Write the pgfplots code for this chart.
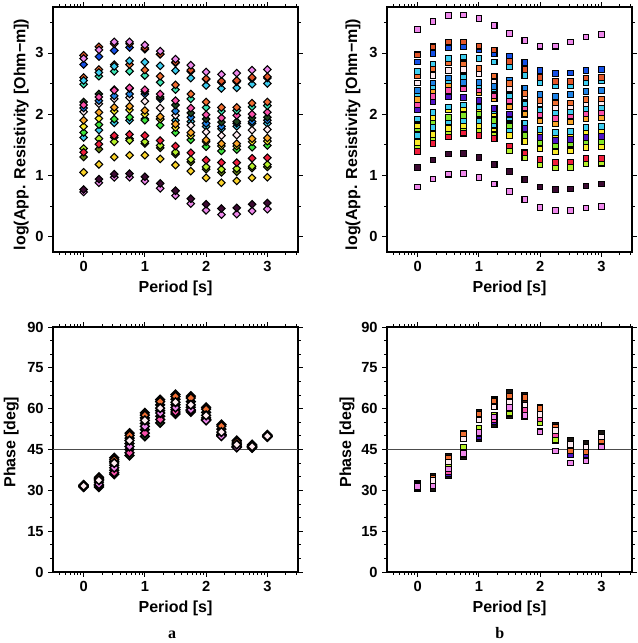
\documentclass[border=0pt]{standalone}
\usepackage{fontspec}
\setmainfont{Liberation Sans}
\newfontfamily\serifb{Liberation Serif}
\usepackage{pgfplots}
\usepackage{pgfplotstable}
\pgfplotsset{compat=1.18}

\definecolor{cViolet}{RGB}{238,135,235}
\definecolor{cTomato}{RGB}{225,85,40}
\definecolor{cBlue}{RGB}{20,80,230}
\definecolor{cCyan}{RGB}{60,205,240}
\definecolor{cOrange}{RGB}{240,110,50}
\definecolor{cAqua}{RGB}{60,230,180}
\definecolor{cDkGreen}{RGB}{30,70,30}
\definecolor{cHotPink}{RGB}{250,80,170}
\definecolor{cSteel}{RGB}{30,130,230}
\definecolor{cWhite}{RGB}{255,235,240}
\definecolor{cLtOrange}{RGB}{250,165,40}
\definecolor{cYellow}{RGB}{250,235,40}
\definecolor{cGreen}{RGB}{60,230,60}
\definecolor{cYG}{RGB}{180,240,40}
\definecolor{cRed}{RGB}{240,30,60}
\definecolor{cOlive}{RGB}{100,130,20}
\definecolor{cGold}{RGB}{250,210,40}
\definecolor{cDkPurple}{RGB}{60,10,50}
\definecolor{cIndigo}{RGB}{80,20,200}
\definecolor{cLime}{RGB}{130,230,40}
\definecolor{cDark}{RGB}{25,20,15}
\definecolor{cDkBrown}{RGB}{70,30,15}

% top-left: log apparent resistivity (diamonds)
\pgfplotstableread{
x    s1   s2   s3   s4   s5   s6   s7   s8   s9   s10  s11  s12  s13  s14  s15  s16  s17  s18  s19  s20
0    2.91 2.96 2.81 2.55 2.60 2.49 2.20 2.15 2.10 2.04 1.90 1.80 1.70 1.62 1.44 1.38 1.30 1.05 0.77 0.73
0.25 3.05 3.10 2.94 2.68 2.73 2.62 2.33 2.28 2.22 2.17 2.03 1.93 1.83 1.74 1.60 1.51 1.43 1.18 0.94 0.88
0.5  3.18 3.15 3.04 2.78 2.81 2.70 2.40 2.39 2.30 2.25 2.11 2.05 1.92 1.86 1.55 1.65 1.62 1.30 1.02 0.97
0.75 3.18 3.15 3.09 2.87 2.81 2.70 2.42 2.43 2.33 2.27 2.13 2.07 1.95 1.90 1.57 1.67 1.60 1.33 1.03 0.97
1.0  3.13 3.08 3.06 2.85 2.72 2.63 2.37 2.40 2.33 2.21 2.06 2.00 1.90 1.92 1.55 1.65 1.52 1.33 0.98 0.91
1.25 3.03 2.98 2.98 2.79 2.62 2.52 2.28 2.33 2.25 2.10 1.96 1.92 1.82 1.92 1.49 1.57 1.45 1.27 0.87 0.79
1.5  2.90 2.85 2.84 2.71 2.48 2.40 2.15 2.22 2.05 1.98 1.84 1.78 1.70 1.90 1.38 1.48 1.35 1.17 0.75 0.67
1.75 2.80 2.72 2.70 2.59 2.33 2.25 2.02 2.10 1.95 1.82 1.70 1.65 1.58 1.88 1.26 1.37 1.22 1.07 0.62 0.54
2.0  2.69 2.58 2.57 2.47 2.20 2.11 1.92 1.99 1.85 1.71 1.58 1.55 1.47 1.80 1.14 1.25 1.10 0.96 0.53 0.43
2.25 2.65 2.54 2.52 2.42 2.11 2.05 1.87 1.94 1.80 1.65 1.52 1.48 1.40 1.76 1.10 1.21 1.05 0.88 0.46 0.36
2.5  2.67 2.55 2.53 2.43 2.11 2.06 1.88 1.98 1.85 1.66 1.52 1.48 1.42 1.80 1.11 1.21 1.06 0.91 0.47 0.37
2.75 2.72 2.60 2.58 2.49 2.18 2.12 1.94 2.00 1.88 1.74 1.60 1.55 1.46 1.85 1.15 1.28 1.12 0.96 0.53 0.42
3.0  2.73 2.61 2.59 2.50 2.20 2.14 1.95 2.03 1.90 1.75 1.61 1.56 1.49 1.85 1.18 1.29 1.14 0.97 0.55 0.45
}\tl

% top-right: log apparent resistivity (squares)
\pgfplotstableread{
x    t1   t2   t3   t4   t5   t6   t7   t8   t9   t10  t11  t12  t13  t14  t15  t16  t17  t18  t19  t20
0    3.38 2.97 2.85 2.70 2.63 2.51 2.39 2.33 2.24 2.15 2.07 1.65 1.81 1.76 1.92 1.54 1.46 1.39 1.13 0.81
0.25 3.51 3.10 2.99 2.82 2.75 2.63 2.51 2.45 2.38 2.29 2.21 1.78 1.95 1.87 2.03 1.67 1.59 1.52 1.25 0.94
0.5  3.61 3.18 3.08 2.91 2.84 2.71 2.59 2.55 2.47 2.39 2.28 1.87 2.07 1.95 2.12 1.77 1.69 1.63 1.35 1.02
0.75 3.62 3.18 3.10 2.93 2.82 2.73 2.52 2.61 2.45 2.41 2.27 1.90 2.09 1.98 2.15 1.81 1.74 1.69 1.36 1.03
1.0  3.56 3.11 3.05 2.91 2.75 2.66 2.52 2.47 2.35 2.40 2.22 1.89 2.09 2.00 2.12 1.81 1.72 1.65 1.29 0.97
1.25 3.45 3.05 2.99 2.85 2.62 2.55 2.45 2.41 2.25 2.30 2.09 1.82 2.01 1.90 2.05 1.76 1.65 1.60 1.18 0.86
1.5  3.32 2.86 2.94 2.77 2.50 2.41 2.55 2.30 2.12 2.22 2.00 1.75 1.92 1.81 1.95 1.65 1.41 1.48 1.06 0.74
1.75 3.20 2.73 2.84 2.63 2.34 2.28 2.43 2.17 2.00 2.10 1.77 1.70 1.80 1.65 1.85 1.55 1.29 1.37 0.93 0.61
2.0  3.11 2.60 2.71 2.52 2.22 2.17 2.32 2.07 1.89 1.99 1.62 1.60 1.69 1.54 1.75 1.43 1.17 1.26 0.81 0.48
2.25 3.11 2.53 2.66 2.47 2.18 2.11 2.29 2.03 1.84 1.93 1.57 1.55 1.64 1.48 1.70 1.38 1.12 1.21 0.77 0.43
2.5  3.18 2.53 2.67 2.47 2.18 2.12 2.32 2.04 1.87 1.97 1.59 1.57 1.66 1.51 1.72 1.40 1.13 1.22 0.78 0.43
2.75 3.26 2.59 2.71 2.52 2.24 2.17 2.37 2.09 1.92 2.01 1.62 1.60 1.71 1.55 1.78 1.46 1.19 1.28 0.83 0.47
3.0  3.30 2.60 2.73 2.55 2.25 2.19 2.39 2.10 1.94 2.02 1.64 1.62 1.72 1.55 1.80 1.47 1.20 1.28 0.86 0.49
}\tr

% bottom-left: phase (diamonds)
\pgfplotstableread{
x    pdt  por  pm1  pwh  pm2  pvi  pm3  php  pdb
0    32.0 31.8 31.7 31.6 31.5 31.5 31.4 31.4 31.2
0.25 34.8 34.4 34.0 33.7 33.0 32.2 31.9 31.6 31.2
0.5  42.0 41.2 40.6 40.0 39.2 38.3 37.4 36.5 35.9
0.75 51.0 50.2 49.2 48.3 47.2 46.1 45.0 43.8 42.8
1.0  58.5 57.6 56.6 55.7 54.6 53.5 52.3 51.0 49.8
1.25 63.3 62.6 61.4 60.2 59.3 58.4 57.2 56.0 54.8
1.5  65.2 64.5 63.5 62.4 61.4 60.4 59.6 58.8 58.0
1.75 64.6 63.9 62.6 61.4 60.5 59.6 59.4 59.2 58.8
2.0  60.5 59.8 58.6 57.5 56.6 55.7 55.8 56.0 56.0
2.25 54.2 53.6 52.5 51.4 50.6 49.9 50.1 50.4 50.3
2.5  48.3 47.8 47.3 46.8 46.3 45.8 46.0 46.2 45.8
2.75 46.8 46.5 46.3 46.1 46.0 45.8 45.9 45.9 45.6
3.0  50.4 50.2 50.0 49.9 49.8 49.7 49.7 49.8 49.6
}\bl

% bottom-right: phase (squares)
\pgfplotstableread{
x    qdt  qor  qm1  qwh  qgr  qhp  qvi  qbl  qdb
0    32.7 32.3 32.0 31.8 31.3 31.2 31.5 31.0 30.6
0.25 35.0 34.5 34.1 33.7 32.6 32.2 31.6 31.8 30.7
0.5  42.4 41.6 41.0 40.4 38.7 36.9 37.8 36.2 35.4
0.75 51.0 50.6 49.8 48.9 45.7 44.1 43.6 43.0 42.3
1.0  58.6 58.1 57.0 55.9 52.7 50.9 51.2 49.8 49.0
1.25 63.5 62.9 61.8 60.6 57.6 55.8 57.0 55.2 54.0
1.5  65.9 64.7 63.5 62.4 58.5 60.0 60.5 58.2 57.4
1.75 65.0 64.1 62.8 61.4 58.5 59.5 57.4 57.6 57.0
2.0  60.6 60.1 59.0 57.9 55.0 56.3 51.5 55.2 55.0
2.25 54.0 53.2 52.6 52.0 48.7 50.3 44.5 48.3 48.5
2.5  48.5 44.5 47.6 46.8 44.9 45.5 40.0 43.2 43.6
2.75 47.2 44.2 46.5 45.9 44.6 45.2 40.8 43.1 42.8
3.0  51.0 47.8 50.3 49.6 48.0 48.6 46.0 47.3 46.6
}\br

\pgfplotsset{
  gmt/.style={
    scale only axis, width=183.75pt, height=183.75pt,
    xmin=-0.5, xmax=3.5,
    xtick={0,1,2,3},
    minor xtick={-0.398,-0.301,-0.222,-0.155,-0.097,-0.046,
      0.301,0.477,0.602,0.699,0.778,0.845,0.903,0.954,
      1.301,1.477,1.602,1.699,1.778,1.845,1.903,1.954,
      2.301,2.477,2.602,2.699,2.778,2.845,2.903,2.954,
      3.301,3.477},
    tick align=outside, tick pos=both,
    axis line style={line width=1.6pt},
    major tick length=3.5pt, minor tick length=2pt,
    every tick/.style={black, line width=0.6pt},
    ticklabel style={font=\bfseries\fontsize{11}{13}\selectfont},
    label style={font=\bfseries\fontsize{12}{14}\selectfont},
    /pgf/number format/assume math mode=true,
    xlabel={Period [s]},
    xlabel style={at={(axis description cs:0.5,-0.148)}, anchor=center},
    clip=false,
  },
  res/.style={gmt, ymin=-0.25, ymax=3.75, ytick={0,1,2,3},
    minor ytick={0.5,1.5,2.5,3.5},
    ylabel={log(App. Resistivity [Ohm−m])}},
  pha/.style={gmt, ymin=0, ymax=90, ytick={0,15,30,45,60,75,90},
    minor ytick={5,10,20,25,35,40,50,55,65,70,80,85},
    ylabel={Phase [deg]}},
  dia/.style={only marks, mark=square*, mark size=2.0pt,
    mark options={rotate=45, draw=black, line width=0.8pt, fill=#1}},
  pdia/.style={only marks, mark=square*, mark size=2.3pt,
    mark options={rotate=45, draw=black, line width=1.1pt, fill=#1}},
  sq/.style={only marks, mark=square*, mark size=2.1pt,
    mark options={draw=black, line width=0.8pt, fill=#1}},
}

\begin{document}
\begin{tikzpicture}
\useasboundingbox (0,0) rectangle (478.5pt,482.25pt);

% ---------- top-left ----------
\begin{axis}[res, at={(39.75pt,293.25pt)}, anchor=south west,
  ylabel style={at={(axis description cs:-0.13,0.48)}, anchor=center}]
\addplot[dia=cViolet]   table[x=x,y=s20]{\tl};
\addplot[dia=cDkPurple] table[x=x,y=s19]{\tl};
\addplot[dia=cGold]     table[x=x,y=s18]{\tl};
\addplot[dia=cOlive]    table[x=x,y=s17]{\tl};
\addplot[dia=cYG]       table[x=x,y=s15]{\tl};
\addplot[dia=cRed]      table[x=x,y=s16]{\tl};
\addplot[dia=cCyan]     table[x=x,y=s14]{\tl};
\addplot[dia=cGreen]    table[x=x,y=s13]{\tl};
\addplot[dia=cYellow]   table[x=x,y=s12]{\tl};
\addplot[dia=cLtOrange] table[x=x,y=s11]{\tl};
\addplot[dia=cWhite]    table[x=x,y=s10]{\tl};
\addplot[dia=cSteel]    table[x=x,y=s9]{\tl};
\addplot[dia=cDkGreen]  table[x=x,y=s7]{\tl};
\addplot[dia=cHotPink]  table[x=x,y=s8]{\tl};
\addplot[dia=cAqua]     table[x=x,y=s6]{\tl};
\addplot[dia=cOrange]   table[x=x,y=s5]{\tl};
\addplot[dia=cCyan]     table[x=x,y=s4]{\tl};
\addplot[dia=cBlue]     table[x=x,y=s3]{\tl};
\addplot[dia=cTomato]   table[x=x,y=s2]{\tl};
\addplot[dia=cViolet]   table[x=x,y=s1]{\tl};
\end{axis}

% ---------- top-right ----------
\begin{axis}[res, at={(290.25pt,293.25pt)}, anchor=south west,
  ylabel style={at={(axis description cs:-0.139,0.48)}, anchor=center}]
\addplot[sq=cViolet]   table[x=x,y=t20]{\tr};
\addplot[sq=cDkPurple] table[x=x,y=t19]{\tr};
\addplot[sq=cYG]       table[x=x,y=t17]{\tr};
\addplot[sq=cRed]      table[x=x,y=t18]{\tr};
\addplot[sq=cYellow]   table[x=x,y=t16]{\tr};
\addplot[sq=cCyan]     table[x=x,y=t12]{\tr};
\addplot[sq=cLime]     table[x=x,y=t14]{\tr};
\addplot[sq=cYellow]   table[x=x,y=t13]{\tr};
\addplot[sq=cCyan]     table[x=x,y=t15]{\tr};
\addplot[sq=cIndigo]   table[x=x,y=t11]{\tr};
\addplot[sq=cLtOrange] table[x=x,y=t9]{\tr};
\addplot[sq=cHotPink]  table[x=x,y=t10]{\tr};
\addplot[sq=cCyan]     table[x=x,y=t8]{\tr};
\addplot[sq=cSteel]    table[x=x,y=t7]{\tr};
\addplot[sq=cWhite]    table[x=x,y=t6]{\tr};
\addplot[sq=cOrange]   table[x=x,y=t5]{\tr};
\addplot[sq=cCyan]     table[x=x,y=t4]{\tr};
\addplot[sq=cBlue]     table[x=x,y=t3]{\tr};
\addplot[sq=cTomato]   table[x=x,y=t2]{\tr};
\addplot[sq=cViolet]   table[x=x,y=t1]{\tr};
\end{axis}

% ---------- bottom-left ----------
\begin{axis}[pha, at={(39.75pt,53.25pt)}, anchor=south west,
  ylabel style={at={(axis description cs:-0.17,0.53)}, anchor=center}]
\addplot[black!70, line width=0.8pt] coordinates {(-0.5,45) (3.5,45)};
\addplot[pdia=cDkGreen] table[x=x,y=pdb]{\bl};
\addplot[pdia=cDark]    table[x=x,y=pm3]{\bl};
\addplot[pdia=cHotPink] table[x=x,y=php]{\bl};
\addplot[pdia=cDkBrown] table[x=x,y=pm2]{\bl};
\addplot[pdia=cViolet]  table[x=x,y=pvi]{\bl};
\addplot[pdia=cDark]    table[x=x,y=pm1]{\bl};
\addplot[pdia=cDkBrown] table[x=x,y=pdt]{\bl};
\addplot[pdia=cOrange]  table[x=x,y=por]{\bl};
\addplot[pdia=cWhite]   table[x=x,y=pwh]{\bl};
\node[font=\serifb\bfseries\fontsize{12}{14}\selectfont] at (rel axis cs:0.486,-0.257) {a};
\end{axis}

% ---------- bottom-right ----------
\begin{axis}[pha, at={(290.25pt,53.25pt)}, anchor=south west,
  ylabel style={at={(axis description cs:-0.163,0.53)}, anchor=center}]
\addplot[black!70, line width=0.8pt] coordinates {(-0.5,45) (3.5,45)};
\addplot[sq=cDark]    table[x=x,y=qdb]{\br};
\addplot[sq=cIndigo]  table[x=x,y=qbl]{\br};
\addplot[sq=cYG]      table[x=x,y=qgr]{\br};
\addplot[sq=cHotPink] table[x=x,y=qhp]{\br};
\addplot[sq=cDkBrown] table[x=x,y=qm1]{\br};
\addplot[sq=cDark]    table[x=x,y=qdt]{\br};
\addplot[sq=cOrange]  table[x=x,y=qor]{\br};
\addplot[sq=cWhite]   table[x=x,y=qwh]{\br};
\addplot[sq=cViolet]  table[x=x,y=qvi]{\br};
\node[font=\serifb\bfseries\fontsize{12}{14}\selectfont] at (rel axis cs:0.461,-0.249) {b};
\end{axis}
\end{tikzpicture}
\end{document}
